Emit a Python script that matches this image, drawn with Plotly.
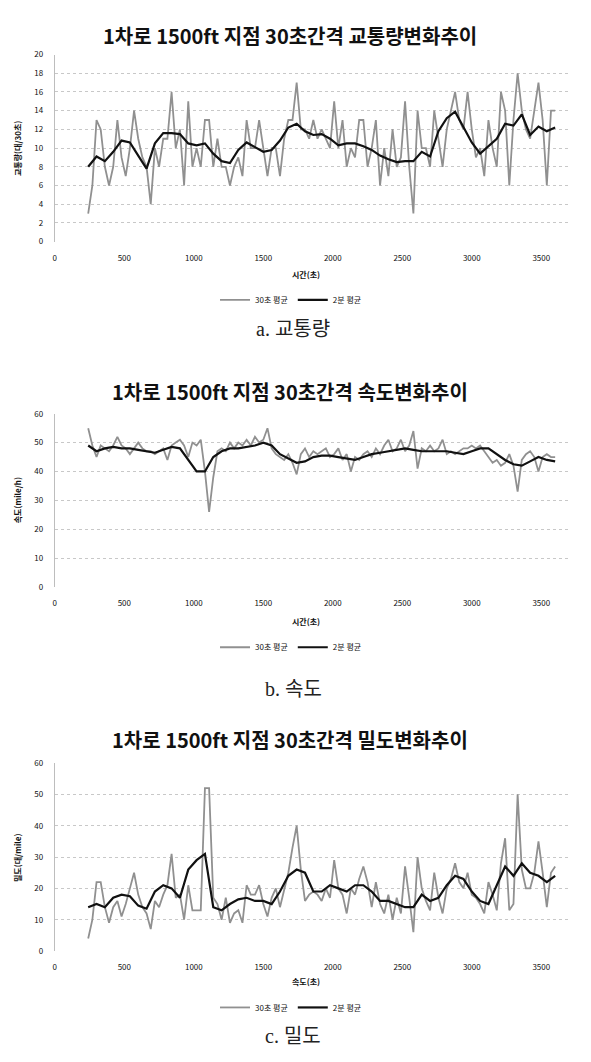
import plotly.graph_objects as go

# ---------------- data ----------------
t30 = list(range(240, 3601, 30))     # 30-second time stamps (s)
t2m = list(range(240, 3601, 60))     # 2-minute average plotted every 60 s

flow_30s = [3, 6, 13, 12, 8, 6, 8, 13, 9, 7,
            10, 14, 11, 9, 8, 4, 10, 8, 11, 11,
            16, 10, 12, 6, 15, 8, 10, 8, 13, 13,
            8, 11, 8, 8, 6, 8, 9, 7, 13, 10,
            10, 13, 10, 7, 10, 10, 7, 11, 13, 13,
            17, 12, 12, 11, 13, 11, 12, 11, 10, 15,
            10, 13, 8, 10, 9, 13, 13, 8, 10, 13,
            6, 10, 7, 12, 8, 9, 15, 8, 3, 14,
            10, 10, 8, 14, 11, 8, 12, 14, 16, 13,
            12, 16, 12, 9, 10, 7, 13, 10, 8, 16,
            14, 6, 13, 18, 14, 12, 11, 14, 17, 13,
            6, 14, 14]
flow_2m = [8.0, 9.1, 8.6, 9.6, 10.8, 10.6, 9.2, 7.8, 10.5, 11.6,
           11.6, 11.5, 10.5, 10.3, 10.5, 9.4, 8.6, 8.4, 9.8, 10.6,
           10.1, 9.6, 9.8, 10.8, 12.2, 12.6, 11.8, 11.4, 11.5, 11.0,
           10.3, 10.5, 10.5, 10.2, 9.8, 9.2, 8.8, 8.5, 8.6, 8.6,
           9.6, 9.1, 11.8, 13.2, 13.9, 12.3, 10.6, 9.4, 10.2, 11.0,
           12.6, 12.4, 13.6, 11.4, 12.3, 11.8, 12.2]

speed_30s = [55, 49, 45, 49, 48, 47, 49, 52, 49, 48,
             46, 48, 50, 48, 47, 47, 46, 47, 48, 44,
             49, 50, 51, 49, 45, 50, 49, 51, 40, 26,
             38, 47, 48, 47, 50, 48, 50, 49, 51, 49,
             52, 50, 51, 55, 48, 46, 45, 44, 46, 43,
             39, 46, 48, 45, 47, 46, 47, 48, 45, 46,
             48, 44, 46, 40, 45, 44, 46, 47, 45, 48,
             46, 49, 51, 47, 48, 51, 47, 49, 54, 41,
             48, 47, 49, 47, 48, 51, 46, 47, 46, 47,
             48, 48, 49, 48, 49, 47, 45, 43, 44, 42,
             43, 46, 42, 33, 44, 46, 47, 45, 40, 45,
             46, 45, 45]
speed_2m = [49, 47, 48, 48.5, 48, 48, 47.5, 47, 46.5, 47.5,
            48.5, 48, 44, 40, 40, 45, 47, 48, 48, 48.5,
            49, 50, 49, 46, 44.5, 43, 43.5, 45, 45.5, 45.5,
            45, 44.5, 44, 45, 46, 46.5, 47, 47.5, 48, 47.5,
            47, 47, 47, 47, 46.5, 46, 47, 48, 48, 46,
            44, 42.5, 42, 43.5, 45, 44, 43.5]

dens_30s = [4, 10, 22, 22, 14, 9, 14, 16, 11, 15,
            20, 25, 18, 14, 12, 7, 16, 14, 18, 21,
            31, 17, 18, 10, 21, 13, 13, 13, 52, 52,
            17, 15, 10, 17, 9, 12, 13, 9, 21, 18,
            18, 21, 15, 11, 17, 20, 14, 20, 25, 33,
            40, 26, 16, 18, 19, 18, 16, 20, 17, 29,
            20, 18, 12, 20, 18, 23, 27, 22, 14, 22,
            15, 12, 18, 10, 17, 12, 27, 17, 6, 30,
            20, 16, 13, 25, 17, 12, 20, 23, 28, 22,
            20, 25, 18, 17, 15, 12, 22, 18, 13, 28,
            36, 13, 15, 50, 26, 20, 20, 25, 35, 25,
            14, 25, 27]
dens_2m = [14, 15, 14, 17, 18, 17.5, 14.5, 13.5, 19, 21,
           20, 17, 26, 29, 31, 14, 13, 15, 16.5, 17,
           16, 16, 15, 19, 24, 26, 25, 19, 19, 21,
           20, 19, 21, 21, 19, 16, 16, 15, 14, 14,
           18, 16, 17, 21, 24, 23, 19, 16, 15, 21,
           27, 24, 28, 25, 24, 22, 24]

titles = ["1차로 1500ft 지점 30초간격 교통량변화추이",
          "1차로 1500ft 지점 30초간격 속도변화추이",
          "1차로 1500ft 지점 30초간격 밀도변화추이"]
ytitles = ["교통량(대/30초)", "속도(mile/h)", "밀도(대/mile)"]
xtitles = ["시간(초)", "시간(초)", "속도(초)"]
captions = ["a. 교통량", "b. 속도", "c. 밀도"]
series_names = ["30초 평균", "2분 평균"]
x_ticks = [0, 500, 1000, 1500, 2000, 2500, 3000, 3500]
y_ranges = [[0, 20], [0, 60], [0, 60]]
y_dtick = [2, 10, 10]

# ---------------- layout helpers (page-pixel based; body has 8px margin) ----------------
OFF = 8
W, H = 591 - 2 * OFF, 1062 - 2 * OFF
def py(p):
    return 1 - (p - OFF) / H
def px(p):
    return (p - OFF) / W

panels = [
    dict(top=49, bottom=238, title=30, xt=271, leg=297, cap=326),
    dict(top=412, bottom=587, title=390, xt=622, leg=648, cap=690),
    dict(top=765, bottom=955, title=741, xt=986, leg=1012, cap=1041),
]

KFONT = "Noto Sans CJK KR"
GRAY = "#909090"

fig = go.Figure()
data_sets = [(flow_30s, flow_2m), (speed_30s, speed_2m), (dens_30s, dens_2m)]
annotations = []
for i, (s30, s2) in enumerate(data_sets):
    n = "" if i == 0 else str(i + 1)
    leg = "legend" if i == 0 else "legend" + str(i + 1)
    fig.add_trace(go.Scatter(x=t30, y=s30, mode="lines", name=series_names[0],
                             line=dict(color=GRAY, width=1.8),
                             xaxis="x" + n, yaxis="y" + n, legend=leg))
    fig.add_trace(go.Scatter(x=t2m, y=s2, mode="lines", name=series_names[1],
                             line=dict(color="#111111", width=2.2),
                             xaxis="x" + n, yaxis="y" + n, legend=leg))
    p = panels[i]
    xa = dict(domain=[px(53), px(569)], range=[0, 3700], tickvals=x_ticks,
              showgrid=False, zeroline=False, showline=False, ticks="",
              ticklabelstandoff=10,
              tickfont=dict(family=KFONT, size=8, color="#111"),
              anchor="y" + n)
    ya = dict(domain=[py(p["bottom"]), py(p["top"])], range=y_ranges[i],
              dtick=y_dtick[i], showgrid=True, gridcolor="#c8c8c8",
              griddash="dot", gridwidth=1, zeroline=False,
              showline=True, linecolor="#bdbdbd", linewidth=1, ticks="",
              ticklabelstandoff=9,
              tickfont=dict(family=KFONT, size=8, color="#111"),
              anchor="x" + n)
    fig.layout["xaxis" + n] = xa
    fig.layout["yaxis" + n] = ya
    fig.layout[leg] = dict(orientation="h", x=px(290), xanchor="center",
                           y=py(p["leg"]), yanchor="middle",
                           font=dict(family=KFONT, size=8, color="#111"),
                           bgcolor="rgba(0,0,0,0)", itemwidth=30,
                           tracegroupgap=0)
    annotations.append(dict(text="<b>" + titles[i] + "</b>", x=px(289), y=py(p["title"]),
                            xanchor="center", yanchor="middle",
                            xref="paper", yref="paper", showarrow=False,
                            font=dict(family=KFONT, size=20, color="#111")))
    annotations.append(dict(text="<b>" + xtitles[i] + "</b>", x=px(305), y=py(p["xt"]),
                            xanchor="center", yanchor="middle",
                            xref="paper", yref="paper", showarrow=False,
                            font=dict(family=KFONT, size=8, color="#111")))
    annotations.append(dict(text="<b>" + ytitles[i] + "</b>", x=px(15),
                            y=py((p["top"] + p["bottom"]) / 2),
                            xanchor="center", yanchor="middle",
                            xref="paper", yref="paper", showarrow=False, textangle=-90,
                            font=dict(family=KFONT, size=8, color="#111")))
    annotations.append(dict(text=captions[i], x=px(292), y=py(p["cap"]),
                            xanchor="center", yanchor="middle",
                            xref="paper", yref="paper", showarrow=False,
                            font=dict(family="Liberation Serif, " + KFONT, size=20,
                                      color="#222")))

fig.update_layout(width=W, height=H, margin=dict(l=0, r=0, t=0, b=0),
                  paper_bgcolor="white", plot_bgcolor="white",
                  annotations=annotations, showlegend=True)

fig.write_html("out.html")
